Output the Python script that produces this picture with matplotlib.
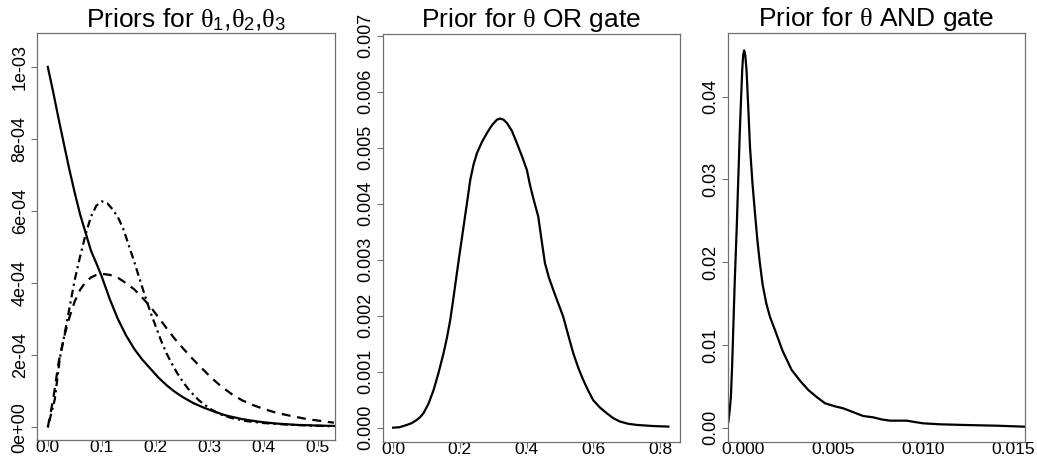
import matplotlib
matplotlib.use("Agg")
import matplotlib.pyplot as plt

plt.rcParams['font.family'] = ['Liberation Sans', 'DejaVu Sans']
plt.rcParams['mathtext.fontset'] = 'custom'
plt.rcParams['mathtext.rm'] = 'Liberation Sans'
plt.rcParams['mathtext.it'] = 'Liberation Serif'

# panel 1: priors for theta1, theta2, theta3 (in units of 1e-3)
x_solid = [0, 0.01, 0.02, 0.03, 0.04, 0.05, 0.06, 0.07, 0.08, 0.09, 0.10, 0.115, 0.13, 0.145, 0.16,
           0.175, 0.19, 0.205, 0.22, 0.235, 0.25, 0.27, 0.29, 0.31, 0.33, 0.36, 0.39, 0.42, 0.46, 0.50, 0.53]
y_solid = [1.0, 0.93, 0.856, 0.785, 0.715, 0.65, 0.59, 0.54, 0.49, 0.455, 0.418, 0.355, 0.30, 0.255, 0.218,
           0.188, 0.163, 0.138, 0.117, 0.099, 0.084, 0.067, 0.054, 0.043, 0.033, 0.023, 0.016, 0.011, 0.007,
           0.005, 0.004]

x_dash = [0, 0.01, 0.02, 0.03, 0.04, 0.05, 0.06, 0.07, 0.08, 0.09, 0.10, 0.115, 0.13, 0.145, 0.16, 0.175,
          0.19, 0.205, 0.22, 0.235, 0.25, 0.265, 0.28, 0.30, 0.32, 0.34, 0.36, 0.38, 0.40, 0.42, 0.44, 0.46,
          0.48, 0.50, 0.53]
y_dash = [0, 0.078, 0.18, 0.25, 0.305, 0.35, 0.382, 0.403, 0.416, 0.423, 0.426, 0.423, 0.415, 0.40, 0.383,
          0.36, 0.335, 0.305, 0.275, 0.246, 0.22, 0.195, 0.172, 0.142, 0.115, 0.093, 0.075, 0.062, 0.051,
          0.042, 0.035, 0.029, 0.023, 0.019, 0.013]

x_dashdot = [0, 0.013, 0.022, 0.035, 0.05, 0.06, 0.07, 0.08, 0.09, 0.10, 0.11, 0.12, 0.13, 0.14, 0.15,
             0.16, 0.17, 0.18, 0.19, 0.20, 0.21, 0.22, 0.23, 0.24, 0.25, 0.26, 0.27, 0.28, 0.30, 0.32,
             0.34, 0.37, 0.40, 0.45, 0.53]
y_dashdot = [0, 0.078, 0.188, 0.29, 0.41, 0.475, 0.535, 0.585, 0.615, 0.627, 0.622, 0.605, 0.583, 0.55,
             0.505, 0.46, 0.412, 0.365, 0.32, 0.28, 0.24, 0.205, 0.176, 0.15, 0.127, 0.107, 0.09, 0.075,
             0.052, 0.036, 0.026, 0.017, 0.012, 0.007, 0.003]

# panel 2: OR gate
x_or = [0, 0.02, 0.041, 0.055, 0.071, 0.081, 0.091, 0.106, 0.121, 0.136, 0.151, 0.161, 0.171, 0.181,
        0.191, 0.201, 0.211, 0.221, 0.231, 0.241, 0.251, 0.266, 0.281, 0.296, 0.311, 0.321, 0.331, 0.341,
        0.356, 0.371, 0.386, 0.401, 0.41, 0.42, 0.435, 0.445, 0.455, 0.467, 0.48, 0.495, 0.51, 0.525,
        0.54, 0.555, 0.57, 0.585, 0.60, 0.62, 0.64, 0.66, 0.68, 0.705, 0.73, 0.78, 0.825]
y_or = [0, 0.00001, 0.00005, 0.00008, 0.00014, 0.00019, 0.00026, 0.00043, 0.00067, 0.00098, 0.00133,
        0.0016, 0.00192, 0.00233, 0.00276, 0.00318, 0.00359, 0.004, 0.00442, 0.0047, 0.0049, 0.0051,
        0.00526, 0.0054, 0.0055, 0.00552, 0.0055, 0.00544, 0.0053, 0.00508, 0.00485, 0.0046, 0.00434,
        0.0041, 0.00377, 0.00335, 0.00294, 0.00268, 0.00246, 0.00222, 0.00198, 0.00165, 0.00133,
        0.00107, 0.00085, 0.00066, 0.00049, 0.00036, 0.00026, 0.00017, 0.00011, 0.00007, 0.00005,
        0.00003, 0.00002]

# panel 3: AND gate
x_and = [-0.00081, -0.00074, -0.00067, -0.0006, -0.00054, -0.00045, -0.00035, -0.00026, -0.00017,
         -0.0001, -0.00004, 0.00001, 0.00007, 0.00013, 0.0002, 0.0003, 0.00039, 0.00053, 0.00067, 0.0008,
         0.00094, 0.0011, 0.0013, 0.0015, 0.00178, 0.0022, 0.0027, 0.0032, 0.00363, 0.0041, 0.00456,
         0.00511, 0.00557, 0.0061, 0.00668, 0.00724, 0.0077, 0.00817, 0.0091, 0.0095, 0.01, 0.01094,
         0.01224, 0.0141, 0.01567]
y_and = [0.0007, 0.002, 0.0037, 0.0075, 0.0118, 0.018, 0.0239, 0.030, 0.036, 0.040, 0.0432, 0.0450,
         0.0456, 0.0450, 0.0432, 0.0385, 0.034, 0.0295, 0.0259, 0.0227, 0.0199, 0.0172, 0.015, 0.0134,
         0.0118, 0.0093, 0.007, 0.0056, 0.00456, 0.0037, 0.00295, 0.00258, 0.00234, 0.0019, 0.00141,
         0.00125, 0.001, 0.00085, 0.00085, 0.0007, 0.00053, 0.00041, 0.00033, 0.00024, 0.00012]

titles = [r'Priors for $\theta_1$,$\theta_2$,$\theta_3$', r'Prior for $\theta$ OR gate', r'Prior for $\theta$ AND gate']

xt1 = [0, 0.1, 0.2, 0.3, 0.4, 0.5]
xl1 = ['0.0', '0.1', '0.2', '0.3', '0.4', '0.5']
yt1 = [0, 2e-4, 4e-4, 6e-4, 8e-4, 1e-3]
yl1 = ['0e+00', '2e-04', '4e-04', '6e-04', '8e-04', '1e-03']
xt2 = [0, 0.2, 0.4, 0.6, 0.8]
xl2 = ['0.0', '0.2', '0.4', '0.6', '0.8']
yt2 = [0, 0.001, 0.002, 0.003, 0.004, 0.005, 0.006, 0.007]
yl2 = ['0.000', '0.001', '0.002', '0.003', '0.004', '0.005', '0.006', '0.007']
xt3 = [0, 0.005, 0.010, 0.015]
xl3 = ['0.000', '0.005', '0.010', '0.015']
yt3 = [0, 0.01, 0.02, 0.03, 0.04]
yl3 = ['0.00', '0.01', '0.02', '0.03', '0.04']

W, H = 1037, 458
fig = plt.figure(figsize=(W / 100, H / 100), dpi=100)
ax1 = fig.add_axes([37 / W, 18 / H, 298 / W, 407 / H])
ax2 = fig.add_axes([383 / W, 16 / H, 297 / W, 408 / H])
ax3 = fig.add_axes([728 / W, 16 / H, 297 / W, 409 / H])

lw = 1.6
ax1.plot(x_solid, [v * 1e-3 for v in y_solid], color='black', lw=lw)
ax1.plot(x_dash, [v * 1e-3 for v in y_dash], color='black', lw=lw, linestyle=(0, (4, 3)))
ax1.plot(x_dashdot, [v * 1e-3 for v in y_dashdot], color='black', lw=lw, linestyle=(0, (1, 1.8, 3.5, 1.8)))
ax1.set_xlim(-0.02, 0.532)
ax1.set_ylim(-0.035e-3, 1.094e-3)

ax2.plot(x_or, y_or, color='black', lw=lw)
ax2.set_xlim(-0.0305, 0.86)
ax2.set_ylim(-0.000255, 0.00703)

ax3.plot(x_and, y_and, color='black', lw=lw)
ax3.set_xlim(-0.00083, 0.01567)
ax3.set_ylim(-0.00173, 0.0477)

for ax, t, xt, xl, yt, yl in [(ax1, titles[0], xt1, xl1, yt1, yl1),
                              (ax2, titles[1], xt2, xl2, yt2, yl2),
                              (ax3, titles[2], xt3, xl3, yt3, yl3)]:
    ax.set_title(t, fontsize=19, pad=3)
    ax.set_xticks(xt)
    ax.set_xticklabels(xl, fontsize=12.5)
    ax.set_yticks(yt)
    ax.set_yticklabels(yl, fontsize=13, rotation=90, va='center')
    ax.tick_params(length=4, width=0.8, color='#707070')
    ax.tick_params(axis='x', pad=-4)
    ax.tick_params(axis='y', pad=2)
    for s in ax.spines.values():
        s.set_color('#707070')
        s.set_linewidth(0.9)

fig.savefig('out.png', dpi=100)
